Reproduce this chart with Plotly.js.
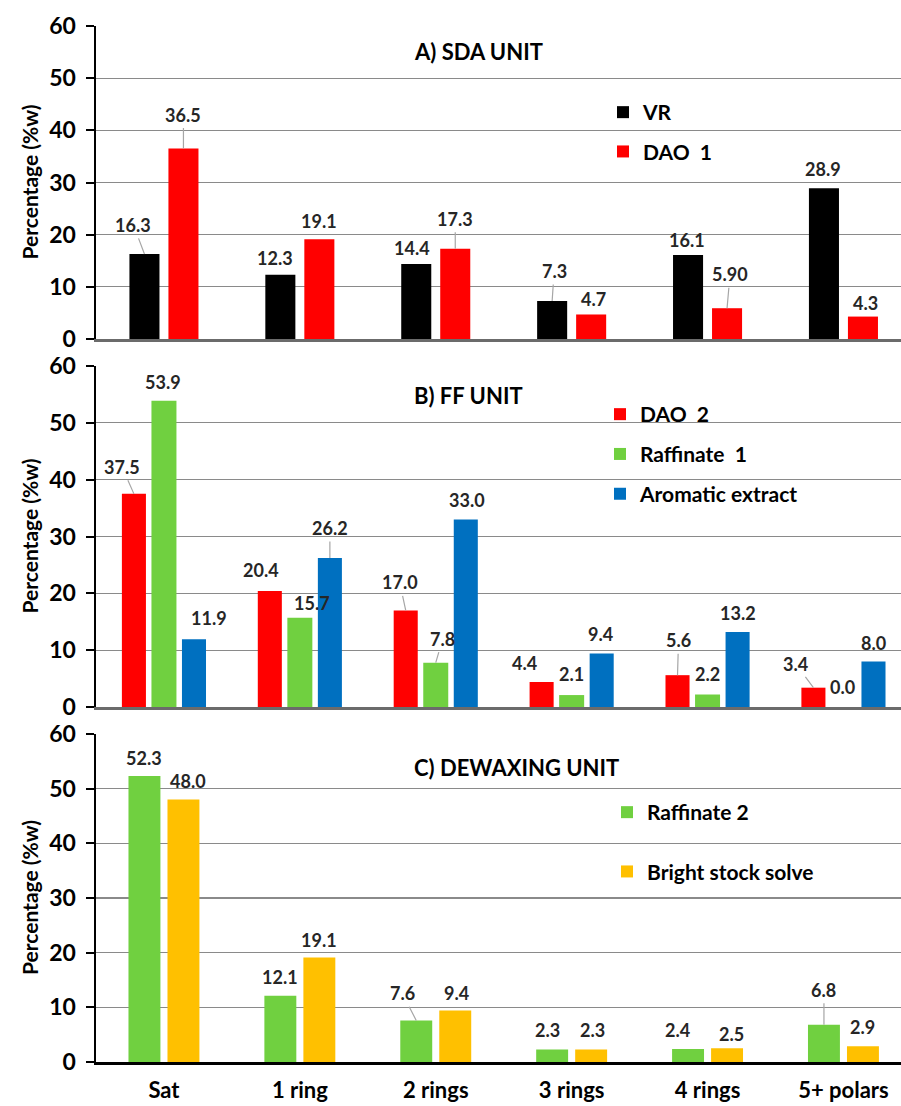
<!DOCTYPE html>
<html>
<head>
<meta charset="utf-8">
<script src="https://cdn.plot.ly/plotly-3.0.1.min.js"></script>
<style>html,body{margin:0;padding:0;background:#fff;}#chart{width:901px;height:1106px;}</style>
</head>
<body>
<div id="chart"></div>
<script>
// ---------- DATA ----------
const categories = ["Sat", "1 ring", "2 rings", "3 rings", "4 rings", "5+ polars"];
const yTicks = [0, 10, 20, 30, 40, 50, 60];

// Panel A) SDA UNIT
const vr    = [16.3, 12.3, 14.4, 7.3, 16.1, 28.9];
const dao1  = [36.5, 19.1, 17.3, 4.7, 5.90, 4.3];
const dao1Labels = ["36.5", "19.1", "17.3", "4.7", "5.90", "4.3"];

// Panel B) FF UNIT
const dao2      = [37.5, 20.4, 17.0, 4.4, 5.6, 3.4];
const raff1     = [53.9, 15.7, 7.8, 2.1, 2.2, 0.0];
const aromatic  = [11.9, 26.2, 33.0, 9.4, 13.2, 8.0];

// Panel C) DEWAXING UNIT
const raff2     = [52.3, 12.1, 7.6, 2.3, 2.4, 6.8];
const bright    = [48.0, 19.1, 9.4, 2.3, 2.5, 2.9];

// ---------- STYLE ----------
const FONT = "Lato, 'Open Sans', sans-serif";
const COL = {black:"#000000", red:"#ff0000", green:"#70d040", blue:"#0070c0", gold:"#ffc000"};
const LEADER = "#a6a6a6";

// label nudges in pixels [dx, dy, leader?]
const nudge = {
  vr:   [[-11,-29,1],[-5,-17,0],[-4,-16,0],[2,-30,1],[-1,-15,0],[-1,-19,0]],
  dao1: [[0,-34,1],[0,-18,0],[0,-30,1],[2,-15,0],[3,-34,1],[3,-14,0]],
  dao2: [[-12,-27,1],[-9,-21,0],[-6,-28,1],[-17,-19,0],[1,-35,1],[-18,-24,1]],
  raff1:[[-1,-19,0],[12,-15,0],[7,-24,1],[0,-21,0],[0,-21,0],[-1,-20,0]],
  arom: [[15,-21,0],[0,-30,1],[1,-19,0],[-1,-20,0],[0,-19,0],[0,-19,0]],
  raff2:[[0,-18,0],[0,-19,0],[-14,-27,1],[-5,-19,0],[-11,-19,0],[0,-35,1]],
  bright:[[5,-19,0],[0,-18,0],[1,-18,0],[1,-19,0],[4,-14,0],[0,-19,0]]
};

const traces = [];
const annotations = [];

function addSeries(name, values, color, xa, ya, center, width, legend, nudgeArr, labels) {
  traces.push({
    type: "bar", name: name, x: categories, y: values,
    xaxis: xa, yaxis: ya, width: width, offset: center - width / 2,
    marker: {color: color, line: {width: 0}},
    legend: legend, legendgroup: name, hoverinfo: "skip"
  });
  values.forEach((v, i) => {
    const n = nudgeArr[i];
    annotations.push({
      xref: xa, yref: ya, x: i + center, y: v,
      text: labels ? labels[i] : v.toFixed(1),
      showarrow: true, arrowhead: 0, arrowwidth: 1.2,
      arrowcolor: n[2] ? LEADER : "rgba(0,0,0,0)",
      ax: n[0], ay: n[1], standoff: 0, startstandoff: 1,
      font: {family: FONT, size: 18, color: "#262626", weight: "bold"}
    });
  });
}

addSeries("VR", vr, COL.black, "x", "y", -0.1435, 0.221, "legend", nudge.vr);
addSeries("DAO\u00a0\u00a01", dao1, COL.red, "x", "y", 0.1435, 0.221, "legend", nudge.dao1, dao1Labels);

addSeries("DAO\u00a0\u00a02", dao2, COL.red, "x2", "y2", -0.221, 0.177, "legend2", nudge.dao2);
addSeries("Raffinate\u00a0\u00a01", raff1, COL.green, "x2", "y2", 0, 0.184, "legend2", nudge.raff1);
addSeries("Aromatic extract", aromatic, COL.blue, "x2", "y2", 0.221, 0.177, "legend2", nudge.arom);

addSeries("Raffinate 2", raff2, COL.green, "x3", "y3", -0.1435, 0.235, "legend3", nudge.raff2);
addSeries("Bright stock solve", bright, COL.gold, "x3", "y3", 0.1435, 0.235, "legend3", nudge.bright);

const W = 901, H = 1106;

// panel titles
const panelTitles = [["A) SDA UNIT", 52], ["B) FF UNIT", 395], ["C) DEWAXING UNIT", 767]];
panelTitles.forEach(t => annotations.push({
  xref: "paper", yref: "paper", x: 412 / W, y: 1 - t[1] / H,
  xanchor: "left", yanchor: "middle", showarrow: false, text: t[0],
  font: {family: FONT, size: 22, color: "#000", weight: "bold"}
}));

// y titles
const dom = [[26, 339], [366, 707], [734, 1062]];
dom.forEach(d => annotations.push({
  xref: "paper", yref: "paper", x: 29 / W, y: 1 - (d[0] + d[1]) / 2 / H,
  xanchor: "center", yanchor: "middle", textangle: -90, showarrow: false,
  text: "Percentage (%w)",
  font: {family: FONT, size: 21, color: "#000", weight: "bold"}
}));

function yax(d, anchor) {
  return {
    domain: [1 - d[1] / H, 1 - d[0] / H], anchor: anchor, range: [0, 60],
    tickvals: yTicks, ticks: "outside", ticklen: 8, tickwidth: 2, tickcolor: "#000",
    showline: true, linecolor: "#000", linewidth: 2.5,
    showgrid: true, gridcolor: "#8a8a8a", gridwidth: 1.3, zeroline: false,
    ticklabelstandoff: 5,
    tickfont: {family: FONT, size: 23, color: "#000", weight: "bold"}, fixedrange: true
  };
}
function xax(anchor, showLabels, lineColor) {
  return {
    domain: [96 / W, 1], anchor: anchor, type: "category",
    range: [-0.5, -0.5 + 805 / 135.9],
    showline: true, linecolor: lineColor, linewidth: 2.5, ticks: "",
    showticklabels: showLabels, ticklabelstandoff: 7,
    tickfont: {family: FONT, size: 22, color: "#000", weight: "bold"},
    showgrid: false, zeroline: false, fixedrange: true
  };
}

function legendAt(xPx, yPx, gap) {
  return {
    x: xPx / W, y: 1 - yPx / H, xanchor: "left", yanchor: "top",
    bgcolor: "rgba(0,0,0,0)", borderwidth: 0, tracegroupgap: gap,
    font: {family: FONT, size: 21, color: "#000", weight: "bold"},
    itemwidth: 30, orientation: "v"
  };
}

const layout = {
  width: W, height: H,
  margin: {l: 0, r: 0, t: 0, b: 0},
  paper_bgcolor: "#fff", plot_bgcolor: "#fff",
  barmode: "overlay",
  showlegend: true,
  xaxis: xax("y", false, "#6b6b6b"),
  xaxis2: xax("y2", false, "#6b6b6b"),
  xaxis3: xax("y3", true, "#000"),
  yaxis: yax(dom[0], "x"),
  yaxis2: yax(dom[1], "x2"),
  yaxis3: yax(dom[2], "x3"),
  legend: legendAt(603, 92, 9),
  legend2: legendAt(600, 394, 9.5),
  legend3: legendAt(607, 792, 29),
  annotations: annotations
};

Plotly.newPlot("chart", traces, layout, {staticPlot: true, displayModeBar: false});
</script>
</body>
</html>
